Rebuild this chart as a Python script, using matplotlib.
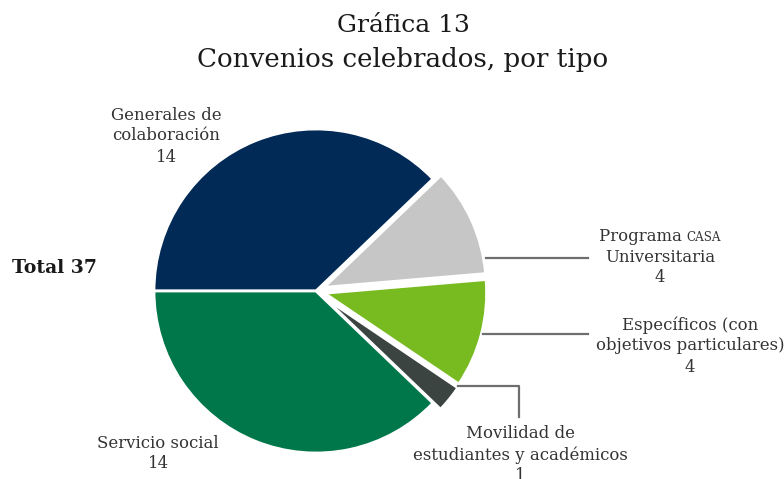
import matplotlib
matplotlib.use("Agg")
import matplotlib.pyplot as plt
from matplotlib.lines import Line2D

categories = ["Generales de colaboración", "Programa CASA Universitaria",
              "Específicos (con objetivos particulares)",
              "Movilidad de estudiantes y académicos", "Servicio social"]
values = [14, 4, 4, 1, 14]
total = 37
colors = ["#012a56", "#c6c6c6", "#78bb21", "#3b4441", "#00774a"]
explode = [0, 0.055, 0.055, 0.06, 0]

W, H = 784, 479
fig = plt.figure(figsize=(W / 100, H / 100), dpi=100)
plt.rcParams['font.family'] = ['DejaVu Serif']

def fx(x):
    return x / W

def fy(y):
    return 1 - y / H

cx, cy, r = 316, 291, 162
ax = fig.add_axes([fx(cx - r), fy(cy + r), 2 * r / W, 2 * r / H])
ax.pie(values, colors=colors, explode=explode, startangle=180,
       counterclock=False, radius=1,
       wedgeprops=dict(edgecolor="white", linewidth=2))
ax.set_xlim(-1, 1)
ax.set_ylim(-1, 1)
ax.set_aspect("equal")
ax.axis("off")

tc = "#333333"
fs = 11.9
fig.text(fx(403), fy(25), "Gráfica 13", ha="center", va="center",
         fontsize=18, color="#1a1a1a")
fig.text(fx(403), fy(60), "Convenios celebrados, por tipo", ha="center",
         va="center", fontsize=18.8, color="#1a1a1a")

fig.text(fx(12), fy(268), f"Total {total}", ha="left", va="center",
         fontsize=13.5, fontweight="bold", color="#1a1a1a")

def label(x, y, lines):
    for i, ln in enumerate(lines):
        fig.text(fx(x), fy(y + i * 21), ln, ha="center", va="center",
                 fontsize=fs, color=tc)

label(166, 115, ["Generales de", "colaboración", str(values[0])])
label(690, 325, ["Específicos (con", "objetivos particulares)", str(values[2])])
label(520, 434, ["Movilidad de", "estudiantes y académicos", str(values[3])])
label(158, 443, ["Servicio social", str(values[4])])

# Programa CASA with small caps
t1 = fig.text(0, fy(236), "Programa ", ha="left", va="center", fontsize=fs, color=tc)
t2 = fig.text(0, fy(237), "CASA", ha="left", va="center", fontsize=fs * 0.72, color=tc)
fig.canvas.draw()
rend = fig.canvas.get_renderer()
w1 = t1.get_window_extent(rend).width
w2 = t2.get_window_extent(rend).width
x0 = 660 - (w1 + w2) / 2
t1.set_x(fx(x0))
t2.set_x(fx(x0 + w1))
label(660, 257, ["Universitaria", str(values[1])])

lc = "#6e6e6e"
lw = 1.6
for xs, ys in [([486, 588], [258, 258]),
               ([483, 588], [334, 334]),
               ([458, 519, 519], [386, 386, 417])]:
    fig.add_artist(Line2D([fx(v) for v in xs], [fy(v) for v in ys],
                          color=lc, linewidth=lw))

fig.savefig("out.png", dpi=100)
